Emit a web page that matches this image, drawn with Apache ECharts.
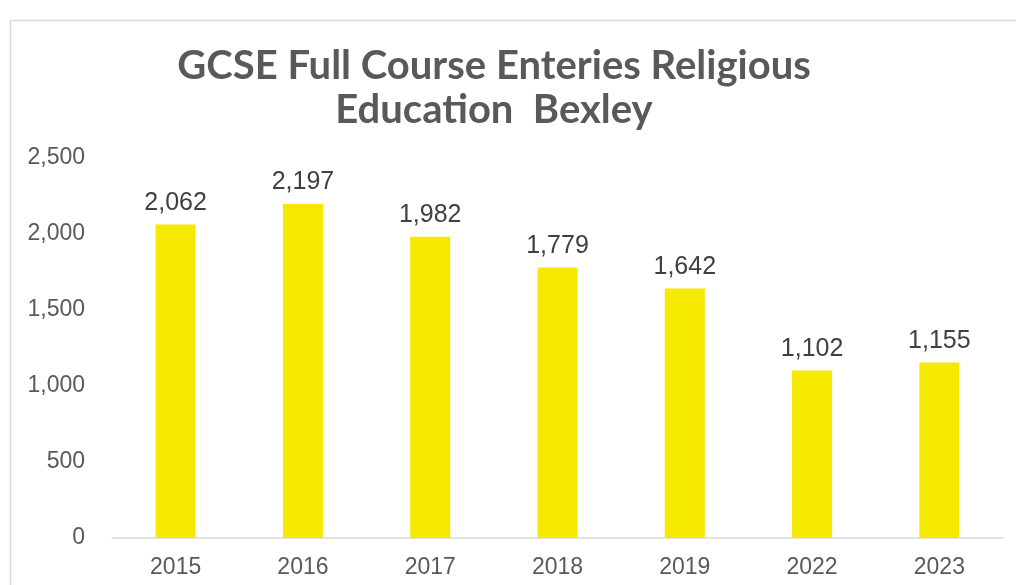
<!DOCTYPE html>
<html>
<head>
<meta charset="utf-8">
<script src="https://cdn.jsdelivr.net/npm/echarts@6/dist/echarts.min.js"></script>
<style>
  html, body { margin: 0; padding: 0; background: #fff; }
  #chart { width: 1016px; height: 585px; }
</style>
</head>
<body>
<div id="chart"></div>
<script>
const years = ["2015", "2016", "2017", "2018", "2019", "2022", "2023"];
const entries = [2062, 2197, 1982, 1779, 1642, 1102, 1155];
const titleText = "GCSE Full Course Enteries Religious\nEducation  Bexley";

const myChart = echarts.init(document.getElementById("chart"));
const option = {
  backgroundColor: "#ffffff",
  animation: false,
  graphic: [
    {
      type: "rect",
      left: 8,
      top: 18,
      shape: { width: 1100, height: 700 },
      style: { fill: "none", stroke: "#d9d9d9", lineWidth: 1.5 }
    }
  ],
  title: {
    text: titleText,
    left: 489,
    top: 39,
    textAlign: "center",
    textStyle: {
      fontFamily: "Lato",
      fontWeight: "bold",
      fontSize: 40,
      lineHeight: 44,
      color: "#595959"
    }
  },
  grid: { left: 112, right: 13, top: 158, bottom: 47 },
  xAxis: {
    type: "category",
    data: years,
    axisLine: { lineStyle: { color: "#d9d9d9", width: 1.5 } },
    axisTick: { show: false },
    axisLabel: {
      margin: 18,
      fontFamily: "Liberation Sans",
      fontSize: 23,
      color: "#595959"
    }
  },
  yAxis: {
    type: "value",
    min: 0,
    max: 2500,
    interval: 500,
    splitLine: { show: false },
    axisLine: { show: false },
    axisTick: { show: false },
    axisLabel: {
      margin: 27,
      fontFamily: "Liberation Sans",
      fontSize: 23,
      color: "#595959",
      formatter: (v) => v.toLocaleString("en-US")
    }
  },
  series: [
    {
      type: "bar",
      data: entries,
      barWidth: 40,
      itemStyle: { color: "#f5e900" },
      label: {
        show: true,
        position: "top",
        distance: 9,
        fontFamily: "Liberation Sans",
        fontSize: 25,
        color: "#404040",
        formatter: (p) => p.value.toLocaleString("en-US")
      }
    }
  ]
};
myChart.setOption(option);
</script>
</body>
</html>
